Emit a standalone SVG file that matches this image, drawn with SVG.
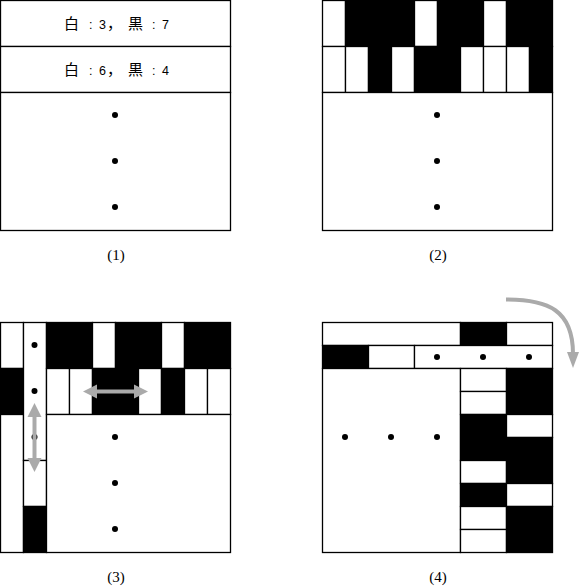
<svg xmlns="http://www.w3.org/2000/svg" width="582" height="587" viewBox="0 0 582 587">
<style>
.c{stroke:#000;stroke-width:1.3}
.w{fill:#fff}
.b{fill:#000}
.dot{fill:#000}
.lbl{font-family:"Liberation Serif",serif;font-size:15px;text-anchor:middle;fill:#000}
.t{font-family:"Liberation Sans","Noto Sans CJK JP",sans-serif;font-size:15px;fill:#000}
.n{font-size:12.5px}
.arr{stroke:#aaa;stroke-width:4;fill:none}
.ah{fill:#aaa}
</style>
<rect width="582" height="587" fill="#fff"/>

<g id="panel1">
<rect class="c w" x="0.5" y="0.5" width="230" height="46"/>
<rect class="c w" x="0.5" y="46.5" width="230" height="46"/>
<rect class="c w" x="0.5" y="92.5" width="230" height="138"/>
<text class="t" y="29"><tspan x="64">白</tspan><tspan class="n" x="89">:</tspan><tspan class="n" x="99">3</tspan><tspan x="107">，</tspan><tspan x="128">黒</tspan><tspan class="n" x="152">:</tspan><tspan class="n" x="162">7</tspan></text>
<text class="t" y="75"><tspan x="64">白</tspan><tspan class="n" x="89">:</tspan><tspan class="n" x="99">6</tspan><tspan x="107">，</tspan><tspan x="128">黒</tspan><tspan class="n" x="152">:</tspan><tspan class="n" x="162">4</tspan></text>
<circle class="dot" cx="115" cy="115" r="3"/>
<circle class="dot" cx="115" cy="161" r="3"/>
<circle class="dot" cx="115" cy="207" r="3"/>
<text class="lbl" x="116" y="260">(1)</text>
</g>

<g id="panel2">
<g transform="translate(322.5,0.5)">
<rect class="c w" x="0" y="0" width="23" height="46"/>
<rect class="c b" x="23" y="0" width="69" height="46"/>
<rect class="c w" x="92" y="0" width="23" height="46"/>
<rect class="c b" x="115" y="0" width="46" height="46"/>
<rect class="c w" x="161" y="0" width="23" height="46"/>
<rect class="c b" x="184" y="0" width="46" height="46"/>
<rect class="c w" x="0" y="46" width="23" height="46"/>
<rect class="c w" x="23" y="46" width="23" height="46"/>
<rect class="c b" x="46" y="46" width="23" height="46"/>
<rect class="c w" x="69" y="46" width="23" height="46"/>
<rect class="c b" x="92" y="46" width="46" height="46"/>
<rect class="c w" x="138" y="46" width="23" height="46"/>
<rect class="c w" x="161" y="46" width="23" height="46"/>
<rect class="c w" x="184" y="46" width="23" height="46"/>
<rect class="c b" x="207" y="46" width="23" height="46"/>
<rect class="c w" x="0" y="92" width="230" height="138"/>
</g>
<circle class="dot" cx="437" cy="115" r="3"/>
<circle class="dot" cx="437" cy="161" r="3"/>
<circle class="dot" cx="437" cy="207" r="3"/>
<text class="lbl" x="438" y="260">(2)</text>
</g>

<g id="panel3">
<g transform="translate(0.5,322.5)">
<rect class="c w" x="0" y="0" width="23" height="46"/>
<rect class="c b" x="0" y="46" width="23" height="46"/>
<rect class="c w" x="0" y="92" width="23" height="138"/>
<rect class="c w" x="23" y="0" width="23" height="138"/>
<rect class="c w" x="23" y="138" width="23" height="46"/>
<rect class="c b" x="23" y="184" width="23" height="46"/>
<rect class="c b" x="46" y="0" width="46" height="46"/>
<rect class="c w" x="92" y="0" width="23" height="46"/>
<rect class="c b" x="115" y="0" width="46" height="46"/>
<rect class="c w" x="161" y="0" width="23" height="46"/>
<rect class="c b" x="184" y="0" width="46" height="46"/>
<rect class="c w" x="46" y="46" width="23" height="46"/>
<rect class="c w" x="69" y="46" width="23" height="46"/>
<rect class="c b" x="92" y="46" width="46" height="46"/>
<rect class="c w" x="138" y="46" width="23" height="46"/>
<rect class="c b" x="161" y="46" width="23" height="46"/>
<rect class="c w" x="184" y="46" width="23" height="46"/>
<rect class="c w" x="207" y="46" width="23" height="46"/>
<rect class="c w" x="46" y="92" width="184" height="138"/>
</g>
<circle class="dot" cx="34.5" cy="345" r="3"/>
<circle class="dot" cx="34.5" cy="391" r="3"/>
<circle class="dot" cx="34.5" cy="437" r="3"/>
<circle class="dot" cx="115" cy="437" r="3"/>
<circle class="dot" cx="115" cy="483" r="3"/>
<circle class="dot" cx="115" cy="529" r="3"/>
<text class="lbl" x="116" y="582">(3)</text>
</g>

<g id="panel4">
<g transform="translate(322.5,322.5)">
<rect class="c w" x="0" y="0" width="138" height="23"/>
<rect class="c b" x="138" y="0" width="46" height="23"/>
<rect class="c w" x="184" y="0" width="46" height="23"/>
<rect class="c b" x="0" y="23" width="46" height="23"/>
<rect class="c w" x="46" y="23" width="46" height="23"/>
<rect class="c w" x="92" y="23" width="138" height="23"/>
<rect class="c w" x="0" y="46" width="138" height="184"/>
<rect class="c w" x="138" y="46" width="46" height="23"/>
<rect class="c w" x="138" y="69" width="46" height="23"/>
<rect class="c b" x="138" y="92" width="46" height="46"/>
<rect class="c w" x="138" y="138" width="46" height="23"/>
<rect class="c b" x="138" y="161" width="46" height="23"/>
<rect class="c w" x="138" y="184" width="46" height="23"/>
<rect class="c w" x="138" y="207" width="46" height="23"/>
<rect class="c b" x="184" y="46" width="46" height="46"/>
<rect class="c w" x="184" y="92" width="46" height="23"/>
<rect class="c b" x="184" y="115" width="46" height="46"/>
<rect class="c w" x="184" y="161" width="46" height="23"/>
<rect class="c b" x="184" y="184" width="46" height="46"/>
</g>
<circle class="dot" cx="437" cy="357" r="3"/>
<circle class="dot" cx="483" cy="357" r="3"/>
<circle class="dot" cx="529" cy="357" r="3"/>
<circle class="dot" cx="345" cy="437" r="3"/>
<circle class="dot" cx="391" cy="437" r="3"/>
<circle class="dot" cx="437" cy="437" r="3"/>
<text class="lbl" x="438" y="582">(4)</text>
</g>

<g id="connectors">
<line class="arr" x1="94" y1="391.5" x2="137" y2="391.5"/>
<polygon class="ah" points="83,391.5 97,384.5 97,398.5"/>
<polygon class="ah" points="148,391.5 134,384.5 134,398.5"/>
<line class="arr" x1="34.5" y1="414" x2="34.5" y2="461"/>
<polygon class="ah" points="34.5,403 27.5,417 41.5,417"/>
<polygon class="ah" points="34.5,472 27.5,458 41.5,458"/>
<path class="arr" d="M506,299.5 C548,299.5 573,310 573,354"/>
<polygon class="ah" points="573,368 567,352 579,352"/>
</g>
</svg>
